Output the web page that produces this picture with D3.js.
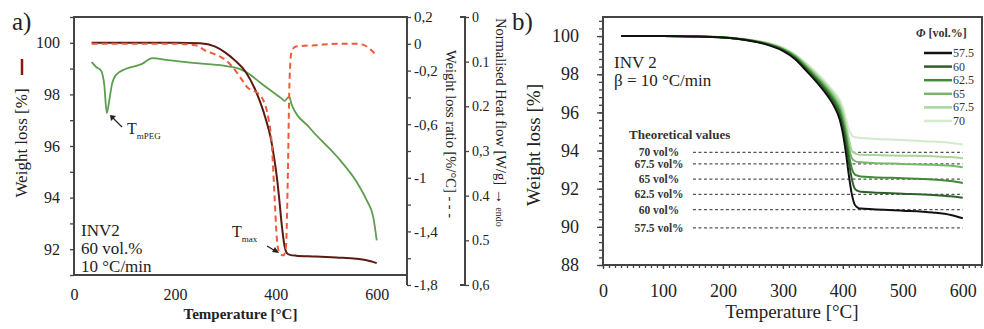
<!DOCTYPE html>
<html><head><meta charset="utf-8">
<script src="https://cdn.jsdelivr.net/npm/d3@7"></script>
<style>
body{margin:0;background:#fff}
svg{display:block}
text{font-family:"Liberation Serif","Times New Roman",serif;fill:#222}
.ax path,.ax line{stroke:#444;stroke-width:1.3}
</style>
</head><body><svg id="c" width="984" height="329"></svg>
<script>
// ---------- Panel a data ----------
const tgaTemp   = [35, 100, 200, 250, 280, 300, 320, 340, 360, 370, 380, 390, 397, 402, 407, 412, 417, 422, 428, 440, 480, 520, 560, 580, 600];
const tgaWeight = [100, 100, 100, 99.98, 99.85, 99.62, 99.3, 98.88, 98.15, 97.65, 97.05, 96.3, 95.5, 94.8, 93.9, 92.9, 92.15, 91.85, 91.78, 91.75, 91.72, 91.68, 91.63, 91.57, 91.46];
const dtgTemp   = [35, 100, 200, 240, 260, 280, 300, 320, 335, 345, 355, 365, 375, 385, 392, 397, 402, 407, 415, 420, 424, 427, 431, 440, 480, 520, 560, 575, 590, 600];
const dtgRatio  = [0, 0, 0, -0.01, -0.05, -0.08, -0.12, -0.2, -0.28, -0.33, -0.35, -0.37, -0.42, -0.55, -0.75, -1.1, -1.45, -1.56, -1.58, -1.52, -0.95, -0.3, -0.06, -0.02, -0.01, 0, 0, -0.01, -0.05, -0.09];
const dscTemp   = [35, 44, 54, 60, 65, 70, 75, 83, 103, 135, 155, 183, 222, 260, 302, 328, 348, 368, 394, 410, 418, 423, 427, 431, 467, 527, 560, 580, 593, 600];
const dscHeat   = [0.101, 0.112, 0.121, 0.152, 0.215, 0.186, 0.152, 0.130, 0.116, 0.105, 0.092, 0.096, 0.101, 0.105, 0.110, 0.116, 0.128, 0.146, 0.168, 0.181, 0.188, 0.181, 0.179, 0.195, 0.248, 0.320, 0.369, 0.41, 0.447, 0.5];
const aXTicks   = [0, 200, 400, 600];
const ratioTickVals   = [0.2, 0, -0.2, -0.6, -1, -1.4, -1.8];
const ratioTickLabels = ["0,2", "0", "-0,2", "-0,6", "-1", "-1,4", "-1,8"];
const heatTickVals    = [0, 0.1, 0.2, 0.3, 0.4, 0.5, 0.6];
const heatTickLabels  = ["0", "0.1", "0.2", "0,3", "0.4", "0.5", "0,6"];

// ---------- Panel b data ----------
const bTemp = [30, 100, 150, 200, 240, 270, 300, 320, 340, 360, 375, 385, 395, 400, 405, 410, 415, 420, 425, 430, 450, 500, 550, 580, 600];
const seriesNames = ["57.5", "60", "62.5", "65", "67.5", "70"];
const s575 = [100, 100, 99.98, 99.92, 99.78, 99.58, 99.22, 98.8, 98.15, 97.45, 96.85, 96.35, 95.6, 94.9, 93.9, 92.7, 91.7, 91.15, 91.0, 90.96, 90.92, 90.85, 90.75, 90.62, 90.45];
const s60  = [100, 100, 99.98, 99.92, 99.79, 99.6, 99.26, 98.86, 98.24, 97.56, 96.98, 96.52, 95.85, 95.25, 94.4, 93.4, 92.5, 92.0, 91.88, 91.84, 91.8, 91.74, 91.67, 91.6, 91.52];
const s625 = [100, 100, 99.98, 99.93, 99.8, 99.62, 99.3, 98.92, 98.32, 97.66, 97.1, 96.66, 96.05, 95.5, 94.75, 93.8, 93.05, 92.75, 92.68, 92.64, 92.6, 92.55, 92.48, 92.4, 92.3];
const s65  = [100, 100, 99.98, 99.93, 99.81, 99.64, 99.33, 98.97, 98.4, 97.76, 97.22, 96.8, 96.25, 95.75, 95.05, 94.2, 93.6, 93.45, 93.4, 93.38, 93.35, 93.3, 93.25, 93.2, 93.12];
const s675 = [100, 100, 99.98, 99.94, 99.82, 99.66, 99.36, 99.01, 98.47, 97.86, 97.34, 96.94, 96.45, 96.0, 95.35, 94.6, 94.0, 93.85, 93.8, 93.78, 93.76, 93.73, 93.7, 93.66, 93.6];
const s70  = [100, 100, 99.98, 99.94, 99.83, 99.68, 99.4, 99.06, 98.55, 97.96, 97.46, 97.08, 96.65, 96.25, 95.7, 95.1, 94.8, 94.7, 94.68, 94.66, 94.62, 94.55, 94.47, 94.4, 94.32];
const seriesColors = ["#111111", "#2f5f2a", "#3f8c36", "#77b76b", "#a8d69d", "#d3ebcc"];
const theoValues = [93.9, 93.3, 92.5, 91.7, 90.9, 89.95];
const theoLabels = ["70 vol%", "67.5 vol%", "65 vol%", "62.5 vol%", "60 vol%", "57.5 vol%"];
const bXTicks = [0, 100, 200, 300, 400, 500, 600];
const bYTicks = [88, 90, 92, 94, 96, 98, 100];

const svg = d3.select("#c");

// ================= Panel a =================
const aL = 74, aR = 407, aT = 17, aB = 275;
const xA = d3.scaleLinear().domain([0, 660]).range([aL, aR]);
const yA = d3.scaleLinear().domain([91, 101]).range([aB, aT]);
const yR = d3.scaleLinear().domain([-1.8, 0.2]).range([285, 17]);
const yH = d3.scaleLinear().domain([0, 0.6]).range([17, 285]);

svg.append("rect").attr("x", aL).attr("y", aT).attr("width", aR - aL).attr("height", aB - aT)
  .attr("fill", "none").attr("stroke", "#444").attr("stroke-width", 2);
svg.append("line").attr("x1", aR).attr("x2", aR).attr("y1", aT).attr("y2", 285).attr("stroke", "#444").attr("stroke-width", 2);

// left axis
const gAL = svg.append("g").attr("class", "ax").attr("transform", `translate(${aL},0)`)
  .call(d3.axisLeft(yA).tickValues(d3.range(91, 101.01, 1)).tickSize(4).tickPadding(10)
    .tickFormat(d => d % 2 === 0 ? d : ""));
gAL.select(".domain").remove();
gAL.selectAll("text").style("font-size", "16px");

// bottom axis
const gAB = svg.append("g").attr("class", "ax").attr("transform", `translate(0,${aB})`)
  .call(d3.axisBottom(xA).tickValues(aXTicks).tickSize(0).tickPadding(14));
gAB.select(".domain").remove();
gAB.selectAll("text").style("font-size", "16px");

// ratio axis
const gAR = svg.append("g").attr("class", "ax").attr("transform", `translate(${aR},0)`)
  .call(d3.axisRight(yR).tickValues(d3.range(0.2, -1.81, -0.2)).tickSize(4).tickPadding(3)
    .tickFormat(d => { const i = ratioTickVals.findIndex(v => Math.abs(v - d) < 1e-6); return i >= 0 ? ratioTickLabels[i] : ""; }));
gAR.select(".domain").remove();
gAR.selectAll("text").style("font-size", "15px");

// heat flow axis
const hX = 465;
const gAH = svg.append("g").attr("class", "ax").attr("transform", `translate(${hX},0)`)
  .call(d3.axisRight(yH).tickValues(heatTickVals).tickSize(4).tickPadding(3)
    .tickFormat((d, i) => heatTickLabels[i]));
gAH.select(".domain").remove();
gAH.selectAll("text").style("font-size", "14px");
svg.append("path").attr("d", `M${hX - 5},${yH(0)}H${hX}V${yH(0.6)}H${hX - 5}`)
  .attr("fill", "none").attr("stroke", "#444").attr("stroke-width", 2);

// curves panel a
const lineTG = d3.line().x((d, i) => xA(tgaTemp[i])).y(d => yA(d)).curve(d3.curveMonotoneX);
const lineDTG = d3.line().x((d, i) => xA(dtgTemp[i])).y(d => yR(d)).curve(d3.curveMonotoneX);
const lineDSC = d3.line().x((d, i) => xA(dscTemp[i])).y(d => yH(d)).curve(d3.curveMonotoneX);

svg.append("path").attr("d", lineDSC(dscHeat)).attr("fill", "none").attr("stroke", "#5c9e4e").attr("stroke-width", 1.8);
svg.append("path").attr("d", lineTG(tgaWeight)).attr("fill", "none").attr("stroke", "#5b1a12").attr("stroke-width", 2);
svg.append("path").attr("d", lineDTG(dtgRatio)).attr("fill", "none").attr("stroke", "#ee5a3c").attr("stroke-width", 2)
  .attr("stroke-dasharray", "6,4");

// annotations a
svg.append("text").attr("x", 12).attr("y", 30).style("font-size", "25px").text("a)");
const tm = svg.append("text").attr("x", 127).attr("y", 134).style("font-size", "16px");
tm.append("tspan").text("T");
tm.append("tspan").attr("dy", 5).style("font-size", "9px").text("mPEG");
svg.append("line").attr("x1", 122).attr("y1", 127).attr("x2", 111).attr("y2", 116).attr("stroke", "#222").attr("stroke-width", 1.3);
svg.append("path").attr("d", "M110,115 l6,1 l-5,5 z").attr("fill", "#222");

const tx = svg.append("text").attr("x", 232).attr("y", 237).style("font-size", "16px");
tx.append("tspan").text("T");
tx.append("tspan").attr("dy", 5).style("font-size", "9px").text("max");
svg.append("line").attr("x1", 267).attr("y1", 246).attr("x2", 277).attr("y2", 252).attr("stroke", "#222").attr("stroke-width", 1.3);
svg.append("path").attr("d", "M279,253 l-7,-1 l3,-5 z").attr("fill", "#222");

["INV2", "60 vol.%", "10 °C/min"].forEach((t, i) =>
  svg.append("text").attr("x", 81).attr("y", 236 + i * 18).style("font-size", "17px").text(t));

// axis titles a
svg.append("text").attr("transform", `translate(${xA(330)},319)`).attr("text-anchor", "middle")
  .style("font-size", "15px").style("font-weight", "bold").text("Temperature [°C]");
const wl = svg.append("g").attr("transform", "translate(27,135) rotate(-90)");
wl.append("text").attr("x", -8).attr("text-anchor", "middle").style("font-size", "17px").text("Weight loss [%]");
wl.append("line").attr("x1", 60).attr("x2", 76).attr("y1", -5).attr("y2", -5).attr("stroke", "#8a1a12").attr("stroke-width", 2.5);
svg.append("text").attr("transform", "translate(446,50) rotate(90)").style("font-size", "14.5px")
  .text("Weight loss ratio [%/°C]  - - -");
const hf = svg.append("text").attr("transform", "translate(496,18) rotate(90)").style("font-size", "14.5px");
hf.append("tspan").text("Normalised Heat flow [W/g] ");
hf.append("tspan").style("font-size", "16px").style("font-weight", "bold").text("→");
hf.append("tspan").style("font-size", "10px").text(" endo");

// ================= Panel b =================
const bL = 603, bR = 982, bT = 17, bB = 265;
const xB = d3.scaleLinear().domain([0, 632]).range([bL, bR]);
const yB = d3.scaleLinear().domain([88, 101]).range([bB, bT]);

// minor ticks
const gBm = svg.append("g").attr("class", "ax").attr("transform", `translate(${bL},0)`)
  .call(d3.axisLeft(yB).tickValues(d3.range(88, 101.01, 0.4)).tickSize(4).tickFormat(""));
gBm.select(".domain").remove();
const gBy = svg.append("g").attr("class", "ax").attr("transform", `translate(${bL},0)`)
  .call(d3.axisLeft(yB).tickValues(bYTicks).tickSize(6).tickPadding(18));
gBy.select(".domain").remove();
gBy.selectAll("text").style("font-size", "18px");
const gBxm = svg.append("g").attr("class", "ax").attr("transform", `translate(0,${bB})`)
  .call(d3.axisBottom(xB).tickValues(d3.range(0, 631, 10)).tickSize(3).tickFormat(""));
gBxm.select(".domain").remove();
const gBx = svg.append("g").attr("class", "ax").attr("transform", `translate(0,${bB})`)
  .call(d3.axisBottom(xB).tickValues(bXTicks).tickSize(4).tickPadding(15));
gBx.select(".domain").remove();
gBx.selectAll("text").style("font-size", "18px");

svg.append("rect").attr("x", bL).attr("y", bT).attr("width", bR - bL).attr("height", bB - bT)
  .attr("fill", "none").attr("stroke", "#444").attr("stroke-width", 2);

// theoretical lines
theoValues.forEach((v, i) => {
  svg.append("line").attr("x1", xB(150)).attr("x2", xB(600)).attr("y1", yB(v)).attr("y2", yB(v))
    .attr("stroke", "#555").attr("stroke-width", 1.3).attr("stroke-dasharray", "3,2.5");
  svg.append("text").attr("x", 659).attr("y", yB(v) + 4).attr("text-anchor", "middle")
    .style("font-size", "11.5px").style("font-weight", "bold").style("fill", "#333").text(theoLabels[i]);
});
svg.append("text").attr("x", 629).attr("y", 139).style("font-size", "13px").style("font-weight", "bold")
  .style("fill", "#333").text("Theoretical values");

// series lines
const seriesData = [s575, s60, s625, s65, s675, s70];
const lineB = d3.line().x((d, i) => xB(bTemp[i])).y(d => yB(d)).curve(d3.curveMonotoneX);
for (let k = seriesData.length - 1; k >= 0; k--) {
  svg.append("path").attr("d", lineB(seriesData[k])).attr("fill", "none")
    .attr("stroke", seriesColors[k]).attr("stroke-width", 2);
}

// legend
const lg = svg.append("text").attr("x", 916).attr("y", 37).style("font-size", "12px").style("font-weight", "bold").style("fill", "#333");
lg.append("tspan").style("font-style", "italic").text("Φ");
lg.append("tspan").text(" [vol.%]");
seriesNames.forEach((n, i) => {
  const y = 53 + i * 13.6;
  svg.append("line").attr("x1", 924).attr("x2", 952).attr("y1", y).attr("y2", y)
    .attr("stroke", seriesColors[i]).attr("stroke-width", 2.5);
  svg.append("text").attr("x", 953).attr("y", y + 4).style("font-size", "12px").style("fill", "#333").text(n);
});

// panel b text
svg.append("text").attr("x", 512).attr("y", 30).style("font-size", "25px").text("b)");
svg.append("text").attr("x", 614).attr("y", 68).style("font-size", "17px").text("INV 2");
svg.append("text").attr("x", 614).attr("y", 86).style("font-size", "17px").text("β = 10 °C/min");
svg.append("text").attr("x", xB(315)).attr("y", 318).attr("text-anchor", "middle").style("font-size", "19px").text("Temperature [°C]");
svg.append("text").attr("transform", "translate(540,145) rotate(-90)").attr("text-anchor", "middle")
  .style("font-size", "19px").text("Weight loss [%]");
</script></body></html>
